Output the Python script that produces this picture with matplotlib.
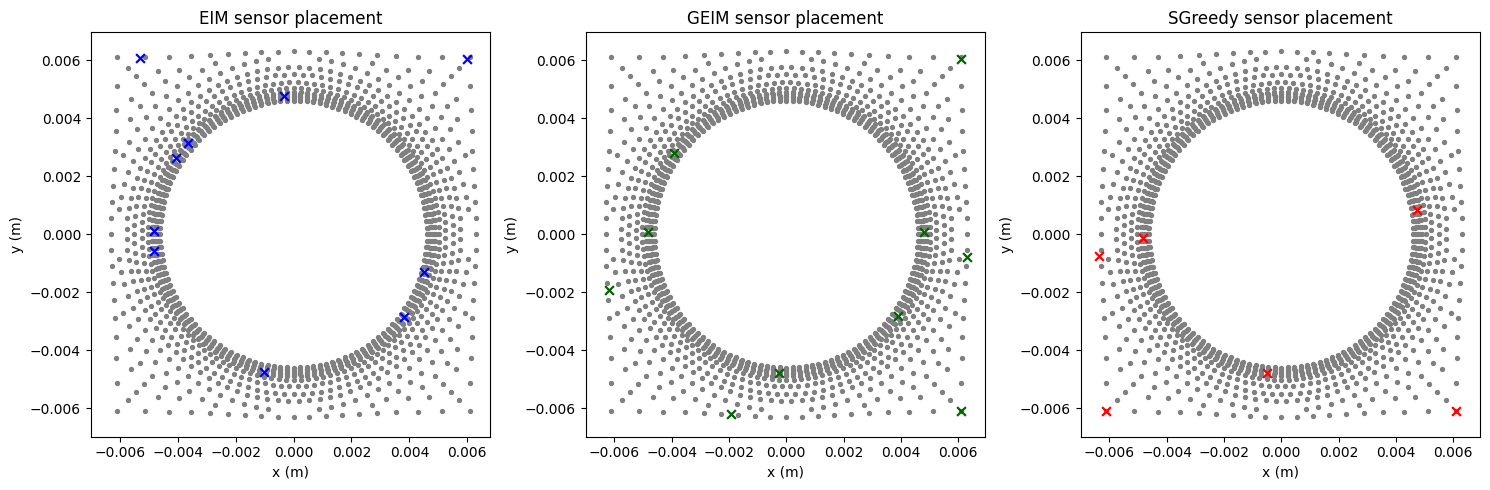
import matplotlib.pyplot as plt
import numpy as np

# --- mesh geometry (annular pin-cell mesh: circle hole inside a square cell)
r_inner_layers = [0.00460, 0.00466, 0.00472, 0.00478, 0.00484, 0.00490]  # boundary layer radii
n_inner = 128
outer_offsets = [0.00013, 0.00034, 0.00061, 0.00086, 0.0012, 0.0016, 0.0020, 0.0024, 0.0028, 0.0032]
outer_counts = [124, 116, 108, 100, 88, 80, 72, 68, 64, 60]
half_side = 0.0061     # half width of the cell at its corners
side_bulge = 0.0002    # the outer edge bows out a little at mid-side
n_edge = 72

# --- sensor positions (m)
eim_x = [-0.00529, 0.00600, -0.00032, -0.00364, -0.00407, -0.00483, -0.00483, 0.00452, 0.00380, -0.00101]
eim_y = [0.00608, 0.00604, 0.00477, 0.00315, 0.00261, 0.00010, -0.00058, -0.00131, -0.00284, -0.00474]

geim_x = [0.00609, -0.00390, -0.00481, 0.00481, 0.00631, -0.00620, 0.00391, -0.00025, -0.00192, 0.00609]
geim_y = [0.00604, 0.00279, 0.00009, 0.00009, -0.00080, -0.00192, -0.00282, -0.00479, -0.00620, -0.00610]

sg_x = [-0.00635, -0.00481, 0.00473, -0.00050, -0.00610, 0.00609]
sg_y = [-0.00076, -0.00014, 0.00082, -0.00478, -0.00609, -0.00609]


def outer_radius(th):
    c, s = np.abs(np.cos(th)), np.abs(np.sin(th))
    return half_side / np.maximum(c, s) + side_bulge * np.cos(2 * th) ** 2


def build_mesh():
    xs, ys = [], []
    for k, r in enumerate(r_inner_layers):
        th = np.linspace(0, 2 * np.pi, n_inner, endpoint=False)
        xs.append(r * np.cos(th)); ys.append(r * np.sin(th))
    r0 = r_inner_layers[-1]
    for k, (d, n) in enumerate(zip(outer_offsets, outer_counts)):
        th = np.linspace(0, 2 * np.pi, n, endpoint=False) + (k % 2) * np.pi / n
        r = r0 + d
        keep = r < outer_radius(th) - 0.00022
        xs.append(r * np.cos(th[keep])); ys.append(r * np.sin(th[keep]))
    th = np.linspace(0, 2 * np.pi, n_edge, endpoint=False) + np.pi / 4
    R = outer_radius(th)
    xs.append(R * np.cos(th)); ys.append(R * np.sin(th))
    return np.concatenate(xs), np.concatenate(ys)


mesh_x, mesh_y = build_mesh()

panels = [
    ('EIM sensor placement', eim_x, eim_y, 'blue', (-0.00700, 0.00679)),
    ('GEIM sensor placement', geim_x, geim_y, 'darkgreen', (-0.00700, 0.00694)),
    ('SGreedy sensor placement', sg_x, sg_y, 'red', (-0.00700, 0.00693)),
]

fig, axes = plt.subplots(1, 3, figsize=(14.9, 4.9), dpi=100)
plt.subplots_adjust(left=0.0609, right=0.9933, bottom=0.109, top=0.934, wspace=0.2387)

for ax, (title, sx, sy, col, xl) in zip(axes, panels):
    ax.scatter(mesh_x, mesh_y, s=8, color='grey')
    ax.scatter(sx, sy, marker='x', s=40, color=col, linewidths=1.6)
    ax.set_xlim(xl)
    ax.set_ylim(-0.00698, 0.00696)
    ax.set_title(title)
    ax.set_xlabel('x (m)')
    ax.set_ylabel('y (m)')
    ax.set_xticks([-0.006, -0.004, -0.002, 0, 0.002, 0.004, 0.006])
    ax.set_yticks([-0.006, -0.004, -0.002, 0, 0.002, 0.004, 0.006])

plt.savefig('out.png', dpi=100)
